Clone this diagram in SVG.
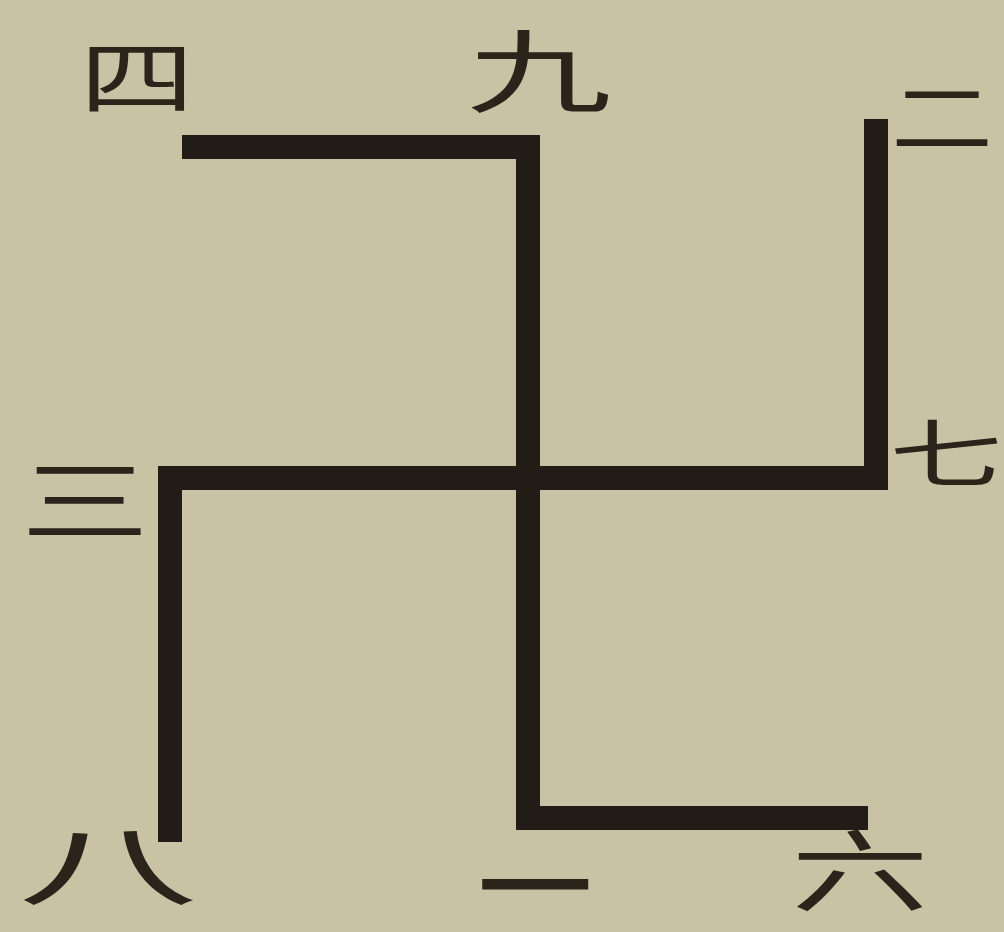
<svg xmlns="http://www.w3.org/2000/svg" width="1004" height="932" viewBox="0 0 1004 932">
  <style>
    .arm { fill: none; stroke: #211c15; stroke-width: 24; stroke-linecap: butt; stroke-linejoin: miter; }
    .num { font-family: "Noto Sans CJK SC", "Noto Sans CJK TC", serif; font-size: 100px; fill: #2a241b; text-anchor: middle; dominant-baseline: central; }
  </style>
  <rect x="0" y="0" width="1004" height="932" fill="#cac2a5"/>
  <g id="connectors">
    <path id="arm-a" class="arm" d="M182,147 H528 V818 H868"/>
    <path id="arm-b" class="arm" d="M876,119 V478 H170 V842"/>
  </g>
  <g id="label-4"><text class="num" transform="translate(137,72) scale(1.15,0.8)">四</text></g>
  <g id="label-9"><text class="num" transform="translate(539,66) scale(1.45,0.9)">九</text></g>
  <g id="label-2"><text class="num" transform="translate(942,112) scale(1.02,0.8)">二</text></g>
  <g id="label-7"><text class="num" transform="translate(946,449) scale(1.13,0.74)">七</text></g>
  <g id="label-3"><text class="num" transform="translate(85,495) scale(1.28,0.9)">三</text></g>
  <g id="label-8"><text class="num" transform="translate(108,860) scale(1.8,0.88)">八</text></g>
  <g id="label-1"><text class="num" style="font-size:56px" stroke="#2a241b" stroke-width="6" transform="translate(535,881) scale(1.85,1.0)">一</text></g>
  <g id="label-6"><text class="num" style="font-size:92px" transform="translate(860,866) scale(1.5,0.96)">六</text></g>
</svg>
